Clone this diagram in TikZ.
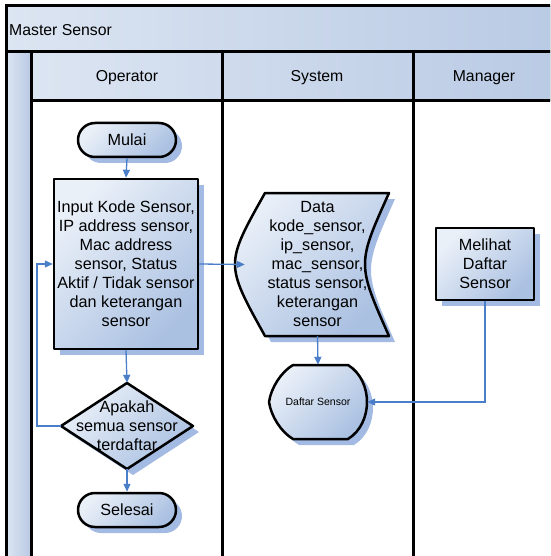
\documentclass[tikz,border=0pt]{standalone}
\usepackage{fontspec}
\setmainfont{Liberation Sans}
\usetikzlibrary{arrows.meta}
\definecolor{lightfill}{HTML}{EAF0F8}
\definecolor{darkfill}{HTML}{ABC1E2}
\definecolor{hdrlight}{HTML}{DCE5F2}
\definecolor{hdrdark}{HTML}{B9CAE4}
\definecolor{arrowblue}{HTML}{4A7EC8}
\definecolor{shadowblue}{HTML}{A3BAE2}
\begin{document}
\begin{tikzpicture}[x=1pt,y=-1pt,
  lane/.style={line width=3pt, black, line cap=rect},
  hdr/.style={left color=hdrlight, right color=hdrdark},
  shd/.style={fill=shadowblue},
  shapebox/.style={draw=black, line width=2.5pt, line join=round, top color=lightfill, bottom color=darkfill, shading angle=45},
  txt/.style={align=center, inner sep=0pt, font=\fontsize{16.2}{19}\selectfont},
  box/.style={shapebox, txt},
  terminal/.style={box, rounded corners=17pt, minimum width=98pt, minimum height=34pt},
  conn/.style={draw=arrowblue, line width=1.3pt, -{Triangle[length=8pt,width=7pt]}},
  hlabel/.style={font=\fontsize{15.8}{19}\selectfont, inner sep=0pt}
]
\useasboundingbox (0,0) rectangle (550,556);
\clip (0,0) rectangle (550,556);
% swimlane backgrounds
\fill[hdr] (6,6) rectangle (560,52);
\fill[hdr] (6,52) rectangle (31,560);
\fill[hdr] (31,52) rectangle (560,101);
% lines
\draw[lane] (6,560) -- (6,6) -- (560,6);
\draw[lane] (6,52) -- (560,52);
\draw[lane] (31,52) -- (31,560);
\draw[lane] (31,101) -- (560,101);
\draw[lane] (222,52) -- (222,560);
\draw[lane] (413,52) -- (413,560);
% titles
\node[hlabel, anchor=west] (title) at (9,30) {Master Sensor};
\node[hlabel] (hop) at (127,78) {Operator};
\node[hlabel] (hsys) at (317,78) {System};
\node[hlabel] (hman) at (484,78) {Manager};
% shadows (offset 5 right, 5 down)
\fill[shd, rounded corners=17pt] (84,129) rectangle (182,163);
\fill[shd] (60,185) rectangle (204,355);
\fill[shd] (133,389) -- (199,432) -- (133,475) -- (67,432) -- cycle;
\fill[shd, rounded corners=17pt] (84,499) rectangle (182,533);
\fill[shd] (271,199) -- (395,199) .. controls (363,270) .. (395,342) -- (271,342) .. controls (231,270) .. (271,199) -- cycle;
\fill[shd] (299,371) -- (354,371) .. controls (367,379) and (373,394) .. (373,408) .. controls (373,422) and (367,437) .. (354,445) -- (299,445)
  .. controls (287,438) and (277,422) .. (275,408) .. controls (277,394) and (287,378) .. (299,371) -- cycle;
\fill[shd] (442,234) rectangle (540,306);
% operator lane
\node[terminal] (mulai) at (127,140) {Mulai};
\node[box, minimum width=144pt, minimum height=170pt] (input) at (126,264)
  {Input Kode Sensor,\\IP address sensor,\\Mac address\\sensor, Status\\Aktif / Tidak sensor\\dan keterangan\\sensor};
\path[shapebox] (127,383) -- (193,426) -- (127,469) -- (61,426) -- cycle;
\node[txt, minimum width=132pt, minimum height=86pt] (dec) at (127,426) {Apakah\\semua sensor\\terdaftar};
\node[terminal] (selesai) at (127,510) {Selesai};
% system lane
\path[shapebox] (265,193) -- (389,193) .. controls (357,264) .. (389,336) -- (265,336) .. controls (225,264) .. (265,193) -- cycle;
\node[txt, minimum width=145pt, minimum height=143pt] (data) at (317.5,264.5)
  {Data\\kode\_sensor,\\ip\_sensor,\\mac\_sensor,\\status sensor,\\keterangan\\sensor};
\path[shapebox] (293,365) -- (348,365) .. controls (361,373) and (367,388) .. (367,402) .. controls (367,416) and (361,431) .. (348,439) -- (293,439)
  .. controls (281,432) and (271,416) .. (269,402) .. controls (271,388) and (281,372) .. (293,365) -- cycle;
\node[inner sep=0pt, minimum width=98pt, minimum height=74pt, font=\fontsize{10.5}{13}\selectfont] (daftar) at (318,402) {Daftar Sensor};
% manager lane
\node[box, minimum width=98pt, minimum height=72pt] (melihat) at (485,264) {Melihat\\Daftar\\Sensor};
% connectors
\coordinate (loop) at (37,426);
\draw[conn] (mulai.south) -- (input.north);
\draw[conn] (input.east) -- (data.west);
\draw[conn] (input.south) -- (dec.north);
\draw[conn] (dec.west) -- (loop) |- (input.west);
\draw[conn] (dec.south) -- (selesai.north);
\draw[conn] (data.south) -- (daftar.north);
\draw[conn] (melihat.south) |- (daftar.east);
\end{tikzpicture}
\end{document}
